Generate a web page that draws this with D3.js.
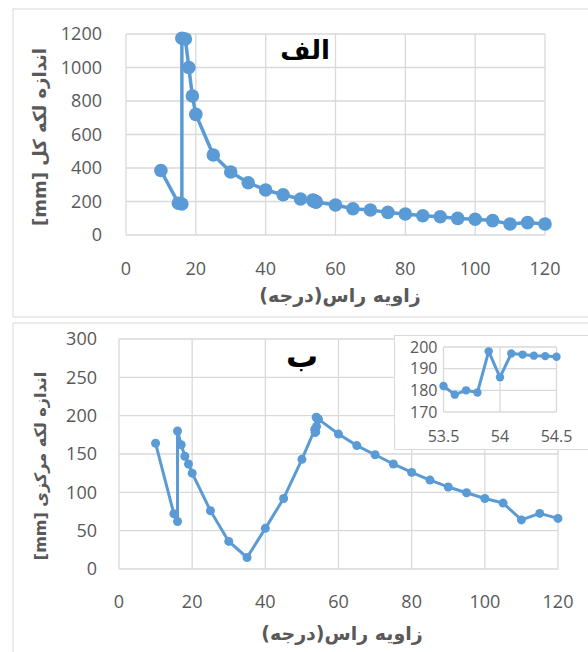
<!DOCTYPE html>
<html>
<head>
<meta charset="utf-8">
<script src="https://cdn.jsdelivr.net/npm/d3@7"></script>
<style>
  body { margin: 0; background: #fff; }
  svg { display: block; }
</style>
</head>
<body>
<div id="chart"></div>
<script>
// angle of the cone (degrees)
var angles = [10, 15, 16, 16, 17, 18, 19, 20, 25, 30, 35, 40, 45, 50,
  53.5, 53.6, 53.7, 53.8, 53.9, 54, 54.1, 54.2, 54.3, 54.4, 54.5,
  60, 65, 70, 75, 80, 85, 90, 95, 100, 105, 110, 115, 120];
// total spot size [mm]
var totalSize = [385, 190, 185, 1175, 1170, 1000, 830, 720, 478, 376, 312, 269, 240, 215,
  208, 206, 205, 204, 203, 202, 201, 200, 199, 198, 197,
  179, 157, 149, 135, 125, 115, 109, 99, 94, 86, 66, 74, 66];
// central spot size [mm]
var centralSize = [164, 72, 62, 180, 162, 147, 137, 125, 76, 36, 15, 53, 92, 143,
  182, 178, 180, 179, 198, 186, 197, 196.5, 196, 195.8, 195.5,
  176, 161, 149, 137, 126, 116, 107, 99.5, 92, 86, 64, 72.5, 66];

var xTicks = [0, 20, 40, 60, 80, 100, 120];
var yTicksTop = [0, 200, 400, 600, 800, 1000, 1200];
var yTicksBottom = [0, 50, 100, 150, 200, 250, 300];
var insetXTicks = [53.5, 54, 54.5];
var insetYTicks = [170, 180, 190, 200];

var xLabel = "زاویه راس(درجه)";
var yLabelTop = "اندازه لکه کل [mm]";
var yLabelBottom = "اندازه لکه مرکزی [mm]";
var titleTop = "الف";
var titleBottom = "ب";

var blue = "#5b9bd5", grid = "#d9d9d9", txt = "#595959";
var numFont = "'Open Sans', 'DejaVu Sans', sans-serif";
var faFont = "'DejaVu Sans', sans-serif";

var svg = d3.select("#chart").append("svg").attr("width", 588).attr("height", 652);

function pts(ys) {
  return angles.map(function(a, i) { return {x: a, y: ys[i]}; });
}

// one chart panel
function panel(o) {
  var g = svg.append("g");
  g.append("rect").attr("x", o.box[0]).attr("y", o.box[1])
    .attr("width", o.box[2]).attr("height", o.box[3])
    .attr("fill", "#fff").attr("stroke", grid);

  var x = d3.scaleLinear().domain(o.xd).range(o.xr);
  var y = d3.scaleLinear().domain(o.yd).range(o.yr);

  // gridlines
  g.selectAll(".gx").data(o.xt).enter().append("line")
    .attr("x1", d => x(d)).attr("x2", d => x(d))
    .attr("y1", o.yr[0]).attr("y2", o.yr[1])
    .attr("stroke", grid).attr("stroke-width", 1.3);
  g.selectAll(".gy").data(o.yt).enter().append("line")
    .attr("x1", o.xr[0]).attr("x2", o.xr[1])
    .attr("y1", d => y(d)).attr("y2", d => y(d))
    .attr("stroke", grid).attr("stroke-width", 1.3);

  // tick labels
  g.selectAll(".tx").data(o.xt).enter().append("text")
    .attr("x", d => x(d)).attr("y", o.yr[0] + o.xlOff)
    .attr("text-anchor", "middle").attr("font-family", numFont)
    .attr("font-size", o.fs).attr("fill", txt).text(d => d);
  g.selectAll(".ty").data(o.yt).enter().append("text")
    .attr("x", o.xr[0] - o.ylOff).attr("y", d => y(d)).attr("dy", "0.35em")
    .attr("text-anchor", "end").attr("font-family", numFont)
    .attr("font-size", o.fs).attr("fill", txt).text(d => d);

  var data = o.data;
  var line = d3.line().x(d => x(d.x)).y(d => y(d.y));
  g.append("path").datum(data).attr("d", line)
    .attr("fill", "none").attr("stroke", blue).attr("stroke-width", o.lw)
    .attr("stroke-linejoin", "round");
  g.selectAll(".dot").data(data).enter().append("circle")
    .attr("cx", d => x(d.x)).attr("cy", d => y(d.y)).attr("r", o.r)
    .attr("fill", blue);
  return g;
}

// top chart
var top1 = panel({
  box: [13, 9, 580, 308], xd: [0, 120], xr: [126, 545], yd: [0, 1200], yr: [235, 34],
  xt: xTicks, yt: yTicksTop, fs: 18, xlOff: 40, ylOff: 24, lw: 3.5, r: 6.8,
  data: pts(totalSize)
});
top1.append("text").attr("x", 340).attr("y", 302).attr("text-anchor", "middle")
  .attr("direction", "rtl").attr("font-family", faFont).attr("font-weight", "bold")
  .attr("font-size", 19).attr("fill", txt).text(xLabel);
top1.append("text").attr("transform", "translate(46,137) rotate(-90)")
  .attr("text-anchor", "middle").attr("direction", "rtl")
  .attr("font-family", faFont).attr("font-weight", "bold")
  .attr("font-size", 18).attr("fill", txt).text(yLabelTop);
top1.append("text").attr("x", 305).attr("y", 59).attr("text-anchor", "middle")
  .attr("font-family", faFont).attr("font-weight", "bold")
  .attr("font-size", 26).attr("fill", "#000").text(titleTop);

// bottom chart
var bot = panel({
  box: [13, 323, 580, 335], xd: [0, 120], xr: [119, 558], yd: [0, 300], yr: [569, 339],
  xt: xTicks, yt: yTicksBottom, fs: 18, xlOff: 39, ylOff: 22, lw: 3, r: 4.5,
  data: pts(centralSize)
});
bot.append("text").attr("x", 342).attr("y", 640).attr("text-anchor", "middle")
  .attr("direction", "rtl").attr("font-family", faFont).attr("font-weight", "bold")
  .attr("font-size", 19).attr("fill", txt).text(xLabel);
bot.append("text").attr("transform", "translate(46,466) rotate(-90)")
  .attr("text-anchor", "middle").attr("direction", "rtl")
  .attr("font-family", faFont).attr("font-weight", "bold")
  .attr("font-size", 16).attr("fill", txt).text(yLabelBottom);
bot.append("text").attr("x", 302).attr("y", 367).attr("text-anchor", "middle")
  .attr("font-family", faFont).attr("font-weight", "bold")
  .attr("font-size", 32).attr("fill", "#000").text(titleBottom);

// inset zoom 53.5 - 54.5
var insetData = pts(centralSize).filter(d => d.x >= 53.5 && d.x <= 54.5);
panel({
  box: [394.5, 335.5, 200, 114], xd: [53.5, 54.5], xr: [443.5, 556.5], yd: [170, 200], yr: [412, 347],
  xt: insetXTicks, yt: insetYTicks, fs: 16, xlOff: 30, ylOff: 6, lw: 3, r: 4.2,
  data: insetData
});
</script>
</body>
</html>
